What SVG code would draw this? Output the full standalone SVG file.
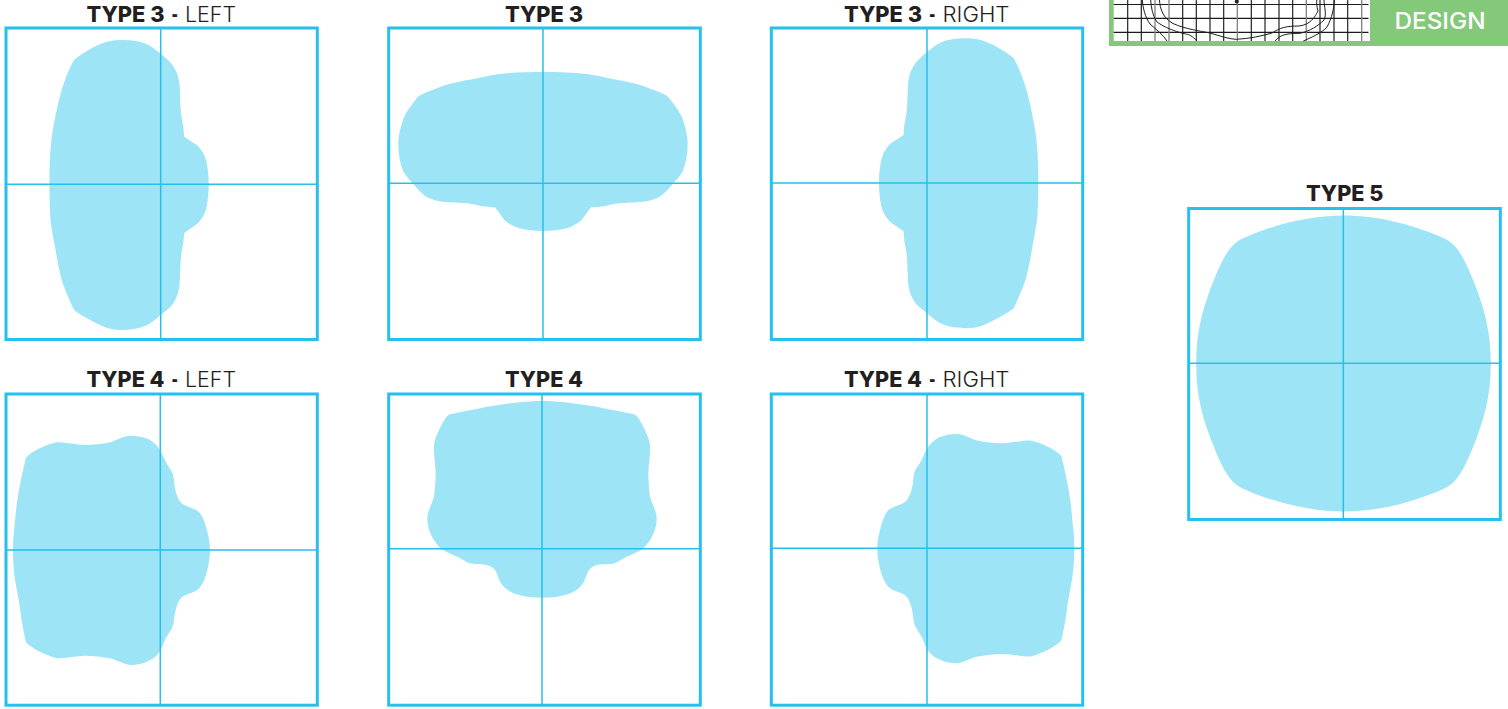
<svg xmlns="http://www.w3.org/2000/svg" xmlns:xlink="http://www.w3.org/1999/xlink" width="1508" height="709" viewBox="0 0 1508 709">
<style>
.frame{fill:none;stroke:#27bfec;stroke-width:3}
.cross{stroke:#27bfec;stroke-width:1.5;fill:none}
.shape{fill:#9ce4f6}
.b{font-family:"Inter","Liberation Sans",sans-serif;font-weight:800;font-size:21.5px;fill:#231f20}
.r{font-family:"Inter","Liberation Sans",sans-serif;font-weight:300;font-size:21.5px;fill:#231f20}
.g{stroke:#1a1a1a;stroke-width:1.15;fill:none}
.gg{stroke:#808080;stroke-width:1.3;fill:none}
.c{stroke:#1f1f1f;stroke-width:1;fill:none}
</style>
<defs>
<path id="s3side" class="shape" d="M-39.7,-144.3C-30,-144.3 -20,-143 -14,-140C-9,-138 -5,-134.5 -0.7,-131C5,-126.5 10,-122 12.7,-117.7C16.5,-112 18,-106 18.7,-101C19.5,-92 19.5,-80 20.3,-71C21,-64 23.3,-58 23.3,-47.7C28,-44 34,-41 37.7,-37.7C42,-33 45,-27 46,-21C47.5,-14 48,-7 48,0C48,7 47.5,14 46,22C45,28 42,34 37.7,38.5C34,42 28,45 23.3,49C23.3,59 21,65 20.3,72C19.5,81 19.5,93 18.7,102C18,107 16.5,113 12.7,119C10,123 5,127 -0.7,131C-5,135 -9,138.5 -14,141C-20,144 -30,145.7 -39.7,145.7C-47,145.7 -54,144 -60.7,140.7C-70,136 -80,131 -86.7,125.7C-92,114 -96,105 -99,95.7C-102,84 -104,73 -105.7,62.3C-108,50 -110,40 -110.5,32C-111,20 -111.3,10 -111.3,0C-111.3,-10 -111,-18 -110.7,-27.7C-110,-38 -109,-48 -107.3,-57.7C-105,-70 -102,-84 -99,-94.3C-96,-104 -92,-115 -86.7,-124.3C-80,-130 -70,-136 -60.7,-140C-54,-143 -47,-144.3 -39.7,-144.3Z"/>
<path id="s4side" class="shape" d="M-29.7,-114.3C-23,-114.3 -17,-113 -12,-111C-7,-108 -3,-104.5 -0.3,-100C2,-96 4,-91 6.3,-86.7C8,-83 11,-80 12.3,-76.7C14,-71 13.5,-66 14.7,-61.7C16,-55 18,-50 21.3,-46.7C26,-43 34,-42 39,-37.7C42,-34 44,-29 45.7,-23.3C48,-15 49.7,-8 49.7,0C49.7,9 48,17 45.7,25C44,30 42,35 39,38.3C34,43 26,44 21.3,47.3C18,51 16,56 14.7,63.3C13.5,68 14,72 12.3,76.7C11,80 7,85 4.7,90C3,94 2,97 -0.3,101C-3,105.5 -7,109 -12,111C-17,113.5 -23,115 -29.7,115C-37,114.5 -43,110 -50.3,108.3C-58,107 -67,105.7 -75.3,105.7C-85,106 -95,108.3 -103.7,108.3C-115,105 -128,99 -134.3,92.3C-137,80 -139,70 -140.3,58.3C-142,46 -145,34 -146.3,21.7C-147,14 -147.3,7 -147.3,0C-147.3,-10 -146.5,-18 -145.3,-28.3C-144.5,-40 -143,-50 -141,-61.7C-139,-72 -137,-82 -134.3,-92.3C-128,-99 -115,-105 -103.7,-107.7C-95,-108 -85,-105 -75.3,-105C-67,-105 -58,-106 -50.3,-107.7C-43,-110 -37,-114.3 -29.7,-114.3Z"/>
</defs>
<rect width="1508" height="709" fill="#fff"/>

<g id="thumbnail-design">
<rect x="1109" y="0" width="399" height="46" fill="#84c97a"/>
<rect x="1113.7" y="0" width="256.3" height="41" fill="#fff"/>
<path class="g" d="M1113.7,4.5H1368.5M1113.7,18.3H1368.5M1113.7,32.3H1368.5M1127.7,0V41M1141.3,0V41M1182.7,0V41M1196.3,0V41M1210,0V41M1223.7,0V41M1251.3,0V41M1265,0V41M1279,0V41M1292.7,0V41M1320,0V41M1334,0V41M1347.7,0V41"/>
<path class="gg" d="M1155,0V41M1169,0V41M1237.3,0V41M1306.3,0V41M1361.7,0V41"/>
<circle cx="1236.8" cy="1.5" r="2" fill="#222"/>
<path class="c" d="M1159.5,0C1160,9 1163,18 1173,23.5C1185,29 1200,31 1210,33C1220,36 1230,39.3 1236.7,39.3C1250,38.5 1262,36 1272,33C1280,28 1285,26 1299,26C1310,25 1315,17 1318,11C1316.5,6 1316.7,3 1316.7,0"/>
<path class="c" d="M1150.7,0C1151,8 1153,16 1156.7,21.7C1165,28 1175,31 1183,33.5C1190,34.5 1192,36 1197,41M1275,41C1280,35 1285,33.5 1300,33.3C1310,31 1318,26 1324,20C1327,14 1324,6 1324,0"/>
<path class="c" d="M1142.3,0C1143,8 1145,17 1150,24C1157,30 1163,35 1167,41M1303.3,41C1310,38 1322,33 1327,27C1332,18 1334,8 1334.3,0"/>
<text x="1394.5" y="29.3" font-family="Inter,'Liberation Sans',sans-serif" font-weight="500" font-size="23px" fill="#fff" textLength="91" lengthAdjust="spacingAndGlyphs">DESIGN</text>
</g>

<g id="type-3-left">
<text class="b" x="86.5" y="22" textLength="78" lengthAdjust="spacingAndGlyphs">TYPE 3</text>
<text class="b" x="171.5" y="22" textLength="6.5" lengthAdjust="spacingAndGlyphs">-</text>
<text class="r" x="185" y="22" textLength="51" lengthAdjust="spacingAndGlyphs">LEFT</text>
<use xlink:href="#s3side" href="#s3side" transform="translate(160.7,184.3)"/>
<rect class="frame" x="6" y="28" width="311.3" height="311.5"/>
<path class="cross" d="M160.7,28V339.5M6,184.3H317.3"/>
</g>

<g id="type-3">
<text class="b" x="505" y="22" textLength="78" lengthAdjust="spacingAndGlyphs">TYPE 3</text>
<path class="shape" transform="translate(543,183.3)" d="M0,-111.3C12,-111.3 25,-111 37,-110C48,-109 60,-106.5 70.3,-104C80,-102.5 92,-100 100.3,-97.3C109,-94 117,-91 124.3,-87.3C129,-82 135,-74 138.7,-66.7C142,-58 144.7,-48 144.7,-39.3C144.7,-30 143,-20 139.7,-11.7C137,-7 134,-4 130.3,0C126,5 122,10 117,13.3C110,17.5 102,18.5 93.7,19C85,19.5 78,19.7 70.3,20.7C66,21.5 62,23 58.7,23.3C55,24 52,24 48,24C45,28 42,32 38.7,36.7C34,40.5 29,43.5 23.7,45C16,47 8,47.7 0,47.7C-8,47.7 -16,47 -23.7,45C-29,43.5 -34,40.5 -38.7,36.7C-42,32 -45,28 -48,24C-52,24 -55,24 -58.7,23.3C-62,23 -66,21.5 -70.3,20.7C-78,19.7 -85,19.5 -93.7,19C-102,18.5 -110,17.5 -117,13.3C-122,10 -126,5 -130.3,0C-134,-4 -137,-7 -139.7,-11.7C-143,-20 -144.7,-30 -144.7,-39.3C-144.7,-48 -142,-58 -138.7,-66.7C-135,-74 -129,-82 -124.3,-87.3C-117,-91 -109,-94 -100.3,-97.3C-92,-100 -80,-102.5 -70.3,-104C-60,-106.5 -48,-109 -37,-110C-25,-111 -12,-111.3 0,-111.3Z"/>
<rect class="frame" x="388.7" y="28" width="311.6" height="311.5"/>
<path class="cross" d="M543,28V339.5M388.7,183.3H700.3"/>
</g>

<g id="type-3-right">
<text class="b" x="844" y="22" textLength="78" lengthAdjust="spacingAndGlyphs">TYPE 3</text>
<text class="b" x="929" y="22" textLength="6.5" lengthAdjust="spacingAndGlyphs">-</text>
<text class="r" x="942.5" y="22" textLength="67" lengthAdjust="spacingAndGlyphs">RIGHT</text>
<use xlink:href="#s3side" href="#s3side" transform="translate(927,182.5) scale(-1,1)"/>
<rect class="frame" x="771.3" y="28" width="311.4" height="311.5"/>
<path class="cross" d="M927,28V339.5M771.3,183H1082.7"/>
</g>

<g id="type-4-left">
<text class="b" x="86.5" y="386.7" textLength="78" lengthAdjust="spacingAndGlyphs">TYPE 4</text>
<text class="b" x="171.5" y="386.7" textLength="6.5" lengthAdjust="spacingAndGlyphs">-</text>
<text class="r" x="185" y="386.7" textLength="51" lengthAdjust="spacingAndGlyphs">LEFT</text>
<use xlink:href="#s4side" href="#s4side" transform="translate(160.3,550)"/>
<rect class="frame" x="6" y="394" width="311.3" height="311.2"/>
<path class="cross" d="M160.3,394V705.2M6,550H317.3"/>
</g>

<g id="type-4">
<text class="b" x="505" y="386.7" textLength="78" lengthAdjust="spacingAndGlyphs">TYPE 4</text>
<path class="shape" transform="translate(542,548.7)" d="M0,-147.7C8,-147.7 17,-147 24.7,-146.3C35,-145 45,-143.5 54.7,-142C67,-139.5 80,-137 93,-134.3C96,-132 98,-128 99.7,-125.3C103,-119 107,-111 108,-103.7C108.5,-94 106.5,-85 106.3,-75.3C106.5,-67 107,-60 108,-52C110,-45 114.7,-37 114.7,-30.3C114.7,-24 113,-18 110.7,-13.7C108,-8 105,-4 101.3,-0.3C95,4 87,6.5 81.3,9.7C77,12 75,14 71.3,14.7C66,16 59,15 54.7,16.3C51,17.5 48,19.5 46.3,22.3C44,27 43,32 39.7,36.3C37,40 32,43 28,44.7C19,48 9,49 0,49C-9,49 -19,48 -28,44.7C-32,43 -37,40 -39.7,36.3C-43,32 -44,27 -46.3,22.3C-48,19.5 -51,17.5 -54.7,16.3C-59,15 -66,16 -71.3,14.7C-75,14 -77,12 -81.3,9.7C-87,6.5 -95,4 -101.3,-0.3C-105,-4 -108,-8 -110.7,-13.7C-113,-18 -114.7,-24 -114.7,-30.3C-114.7,-37 -110,-45 -108,-52C-107,-60 -106.5,-67 -106.3,-75.3C-106.5,-85 -108.5,-94 -108,-103.7C-107,-111 -103,-119 -99.7,-125.3C-98,-128 -96,-132 -93,-134.3C-80,-137 -67,-139.5 -54.7,-142C-45,-143.5 -35,-145 -24.7,-146.3C-17,-147 -8,-147.7 0,-147.7Z"/>
<rect class="frame" x="388.7" y="394" width="311.6" height="311.2"/>
<path class="cross" d="M542,394V705.2M388.7,548.7H700.3"/>
</g>

<g id="type-4-right">
<text class="b" x="844" y="386.7" textLength="78" lengthAdjust="spacingAndGlyphs">TYPE 4</text>
<text class="b" x="929" y="386.7" textLength="6.5" lengthAdjust="spacingAndGlyphs">-</text>
<text class="r" x="942.5" y="386.7" textLength="67" lengthAdjust="spacingAndGlyphs">RIGHT</text>
<use xlink:href="#s4side" href="#s4side" transform="translate(927,548.2) scale(-1,1)"/>
<rect class="frame" x="771.3" y="394" width="311.4" height="311.2"/>
<path class="cross" d="M927,394V705.2M771.3,548.3H1082.7"/>
</g>

<g id="type-5">
<text class="b" x="1306" y="201" textLength="77.5" lengthAdjust="spacingAndGlyphs">TYPE 5</text>
<path class="shape" transform="translate(1343.5,363.5)" d="M0,-148C36,-148 72,-138 101,-125C116,-118 123,-100 133,-75C142,-50 147.3,-30 147.3,0C147.3,30 142,50 133,75C123,100 116,118 101,125C72,138 36,148 0,148C-36,148 -72,138 -101,125C-116,118 -123,100 -133,75C-142,50 -147.3,30 -147.3,0C-147.3,-30 -142,-50 -133,-75C-123,-100 -116,-118 -101,-125C-72,-138 -36,-148 0,-148Z"/>
<rect class="frame" x="1188.7" y="208.5" width="311.6" height="311"/>
<path class="cross" d="M1343.3,208.5V519.5M1188.7,363.3H1500.3"/>
</g>
</svg>
